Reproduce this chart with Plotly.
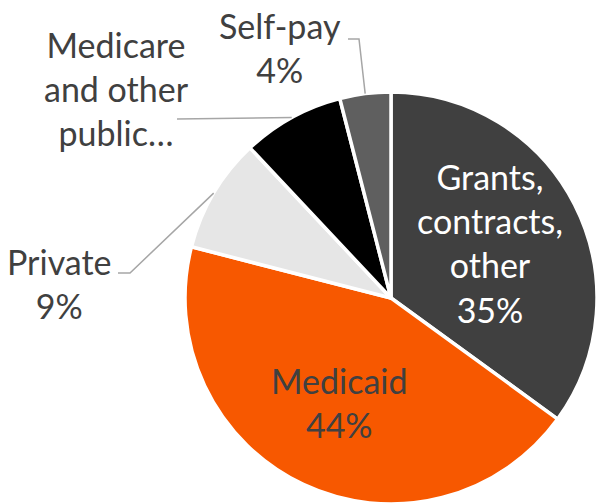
import math
import plotly.graph_objects as go

labels = ["Grants, contracts, other", "Medicaid", "Private", "Medicare and other public", "Self-pay"]
values = [35, 44, 9, 8, 4]
colors = ["#404040", "#F75800", "#E6E6E6", "#000000", "#5F5F5F"]
label_text = ["Grants,<br>contracts,<br>other<br>35%", "Medicaid<br>44%", "Private<br>9%",
              "Medicare<br>and other<br>public…", "Self-pay<br>4%"]
text_colors = ["#FFFFFF", "#404040", "#404040", "#404040", "#404040"]

W, H = 597, 504
CX, CY, R = 391, 298, 206  # pie centre / radius in pixels

# label block centres (pixels) and leader elbow points
label_pos = [(490, 243), (339, 402), (59, 283), (116, 88), (280, 47)]
leader_start = {2: [(118, 273), (130, 273)], 3: [(177, 119)], 4: [(348, 39), (359, 39)]}

FONT = "Lato, Carlito, Calibri, sans-serif"

fig = go.Figure(go.Pie(
    labels=labels, values=values, sort=False, direction="clockwise", rotation=0,
    marker=dict(colors=colors, line=dict(color="white", width=3.5)),
    textinfo="none", hoverinfo="none", showlegend=False,
    domain=dict(x=[(CX - R) / W, min(1, (CX + R) / W)], y=[max(0, (H - CY - R) / H), (H - CY + R) / H]),
))

def px(x, y):
    return x / W, 1 - y / H

total = sum(values)
cum = 0
for i, v in enumerate(values):
    mid = (cum + v / 2) / total * 2 * math.pi
    cum += v
    ax, ay = label_pos[i]
    fig.add_annotation(x=ax / W, y=1 - ay / H, xref="paper", yref="paper", text=label_text[i],
                       showarrow=False, xanchor="center", yanchor="middle", align="center",
                       font=dict(family=FONT, size=34, color=text_colors[i]))
    if i in leader_start:
        ex = CX + R * math.sin(mid)
        ey = CY - R * math.cos(mid)
        pts = leader_start[i] + [(ex, ey)]
        path = "M " + " L ".join(f"{px(x, y)[0]},{px(x, y)[1]}" for x, y in pts)
        fig.add_shape(type="path", xref="paper", yref="paper", path=path,
                      line=dict(color="#A6A6A6", width=1.5))

fig.update_layout(width=W, height=H, margin=dict(l=0, r=0, t=0, b=0),
                  paper_bgcolor="white", plot_bgcolor="white")
fig.write_html("out.html")
